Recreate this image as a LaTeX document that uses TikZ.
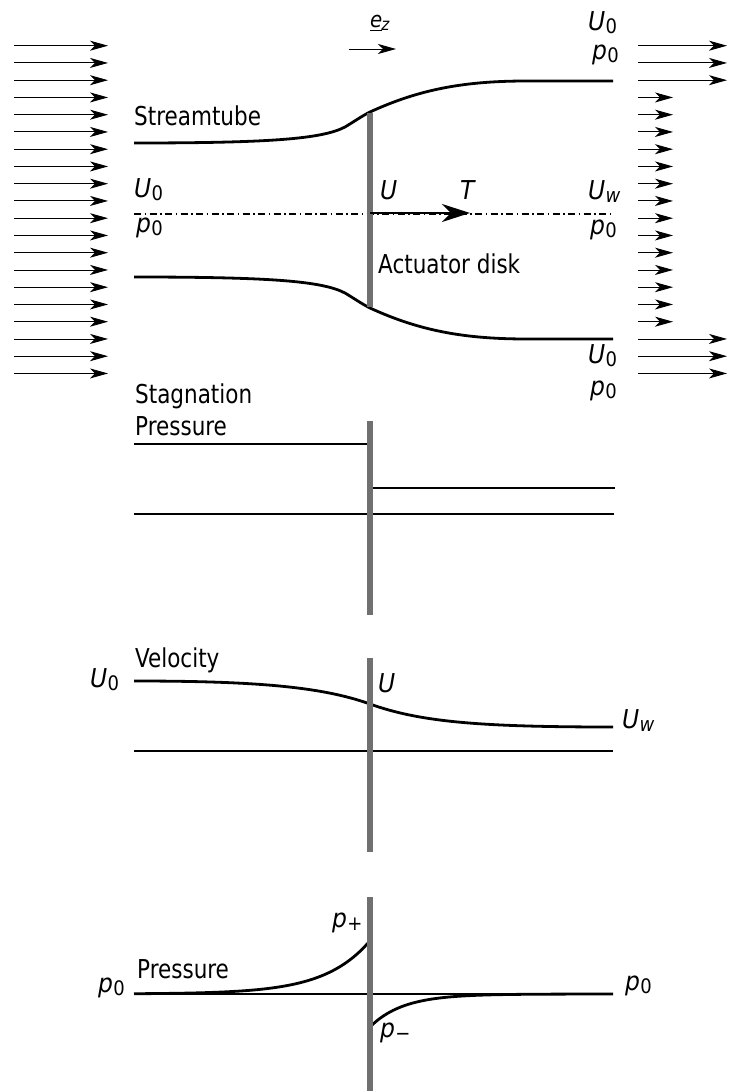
\documentclass[tikz,border=0pt]{standalone}
\usepackage{fontspec}
\setmainfont{DejaVu Sans Condensed}[ItalicFont={DejaVu Sans Condensed Oblique}]
\usetikzlibrary{arrows.meta}
\definecolor{diskgray}{RGB}{112,112,112}
\newcommand\lsym[2]{{\itshape #1}\kern0.3pt\raisebox{-3pt}{\fontsize{20}{20}\selectfont #2}}
\newcommand\cond[1]{\scalebox{0.92}[1]{#1}}
\begin{document}
\begin{tikzpicture}[x=1pt,y=-1pt,
 lab/.style={anchor=base west, inner sep=0pt, font=\fontsize{26}{30}\selectfont},
 flow/.style={line width=0.9pt, -{Stealth[length=18pt,width=10pt,inset=5pt]}},
 bigflow/.style={line width=2pt, -{Stealth[length=28pt,width=18pt,inset=9pt]}},
 disk/.style={line width=6pt, draw=diskgray},
 tube/.style={line width=2.8pt},
 axisline/.style={line width=1.2pt},
 curve/.style={line width=2.8pt},
 center/.style={line width=1.2pt, dash pattern=on 7pt off 3.5pt on 1.5pt off 3.5pt}]
\useasboundingbox (0,0) rectangle (728,1091);

% ---------- inflow / outflow arrows
\foreach \i in {0,...,19} {
  \draw[flow] (14,{45.7+17.25*\i}) -- (108,{45.7+17.25*\i});
}
\foreach \i in {0,1,2,17,18,19} {
  \draw[flow] (638,{45.7+17.25*\i}) -- (727,{45.7+17.25*\i});
}
\foreach \i in {3,...,16} {
  \draw[flow] (638,{45.7+17.25*\i}) -- (673,{45.7+17.25*\i});
}

% ---------- streamtube
\draw[center] (134,214) -- (613,214);
\draw[tube] (134,143) .. controls (270,143) and (322,139) .. (345,127)
  .. controls (355,121) and (362,116) .. (370,112)
  .. controls (420,89) and (465,81) .. (527,81) -- (613,81);
\draw[tube] (134,277) .. controls (270,277) and (322,281) .. (345,293)
  .. controls (355,299) and (362,304) .. (370,308)
  .. controls (420,331) and (465,339) .. (527,339) -- (613,339);
\coordinate (d1t) at (370,113);
\coordinate (d1b) at (370,307);
\draw[disk] (d1t) -- (d1b);
\coordinate (Ts) at (370,213);
\coordinate (Te) at (470,213);
\draw[bigflow] (Ts) -- (Te);

% e_z
\node[lab] (ez) at (370,28) {\fontsize{22}{22}\selectfont\itshape\underline{e}\kern-1pt\raisebox{-3pt}{\fontsize{17}{17}\selectfont z}};
\coordinate (ezs) at (349,49);
\coordinate (eze) at (396,49);
\draw[flow] (ezs) -- (eze);

\node[lab] (stream) at (134,126) {\cond{Streamtube}};
\node[lab] (u0l) at (134,198) {\lsym{U}{0}};
\node[lab] (p0l) at (136,233) {\lsym{p}{0}};
\node[lab] (ud) at (380,200) {\itshape U};
\node[lab] (T) at (460,200) {\itshape T};
\node[lab] (uw) at (588,200) {\lsym{U}{\itshape w}};
\node[lab] (p0m) at (590,234) {\lsym{p}{0}};
\node[lab] (act) at (378,273) {\cond{Actuator disk}};
\node[lab] (u0t) at (588,31) {\lsym{U}{0}};
\node[lab] (p0t) at (592,60) {\lsym{p}{0}};
\node[lab] (u0b) at (588,363) {\lsym{U}{0}};
\node[lab] (p0b) at (590,395) {\lsym{p}{0}};

% ---------- stagnation pressure
\node[lab] (stag1) at (135,403) {\cond{Stagnation}};
\node[lab] (stag2) at (135,435) {\cond{Pressure}};
\draw[curve] (134,444) -- (367,444);
\draw[curve] (373,488) -- (615,488);
\draw[axisline] (134,514) -- (614,514);
\draw[disk] (370,421) -- (370,615);

% ---------- velocity
\node[lab] (vel) at (135,667) {\cond{Velocity}};
\node[lab] (vu0) at (90,687) {\lsym{U}{0}};
\node[lab] (vu) at (378,692) {\itshape U};
\node[lab] (vuw) at (622,728) {\lsym{U}{\itshape w}};
\draw[axisline] (134,751) -- (613,751);
\draw[curve] (134,681) .. controls (250,681) and (320,686) .. (370,704)
  .. controls (420,722) and (480,727) .. (613,727);
\draw[disk] (370,658) -- (370,852);

% ---------- pressure
\node[lab] (pres) at (137,978) {\cond{Pressure}};
\node[lab] (pp0l) at (98,992) {\lsym{p}{0}};
\node[lab] (pplus) at (332,927) {\lsym{p}{+}};
\node[lab] (pminus) at (380,1037) {\lsym{p}{−}};
\node[lab] (pp0r) at (625,990) {\lsym{p}{0}};
\draw[axisline] (134,994) -- (613,994);
\draw[curve] plot[domain=134:368, samples=80] (\x, {994-51*exp((\x-368)/45)});
\draw[curve] plot[domain=372:613, samples=80] (\x, {994+31*exp(-(\x-372)/33)});
\draw[disk] (370,897) -- (370,1091);
\end{tikzpicture}
\end{document}
